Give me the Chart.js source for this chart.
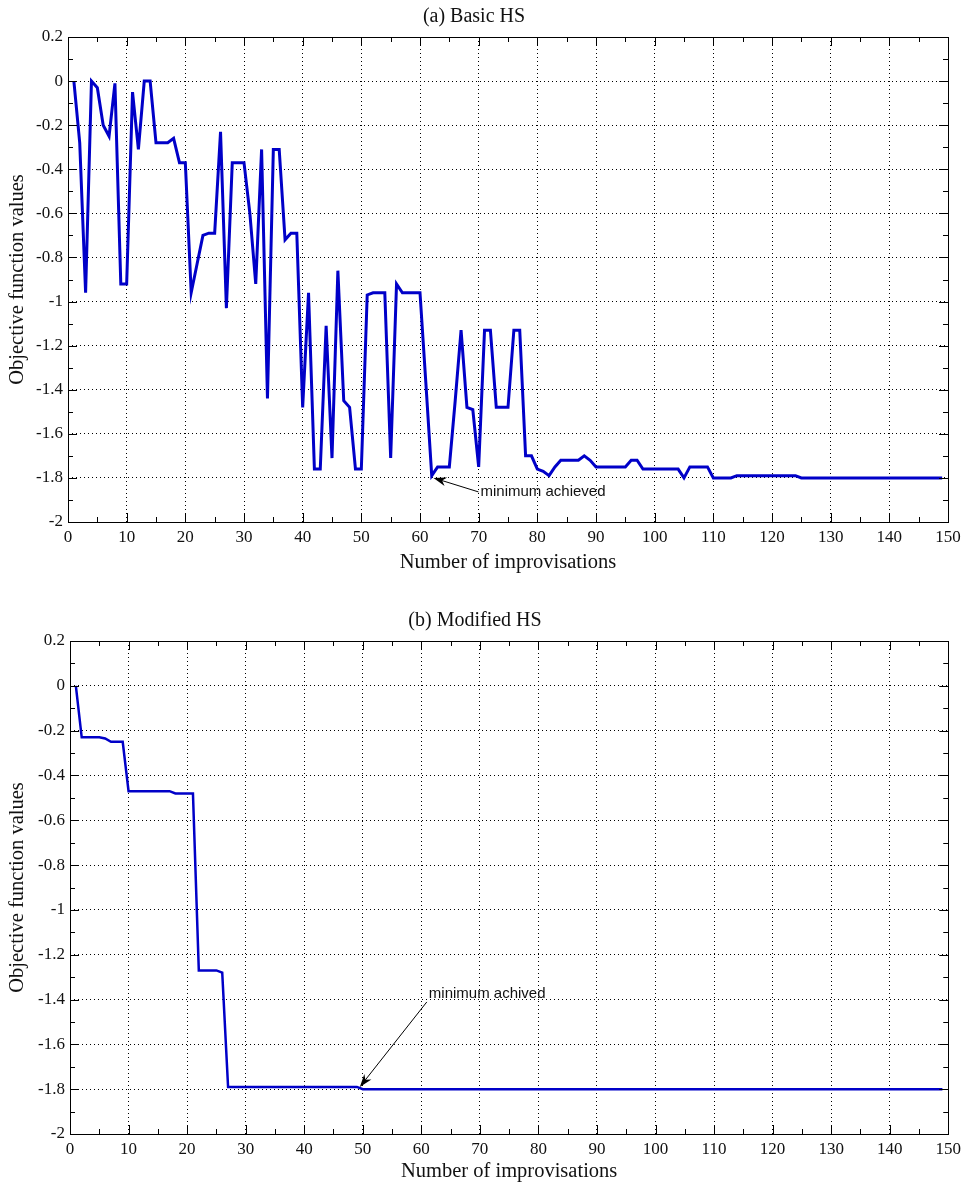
<!DOCTYPE html>
<html>
<head>
<meta charset="utf-8">
<script src="https://cdn.jsdelivr.net/npm/chart.js@4"></script>
<style>
body { margin:0; background:#fff; width:966px; height:1184px; overflow:hidden; position:relative; }
.bloc { position:absolute; left:0; width:966px; }
#bloc-a { top:0; height:580px; }
#bloc-b { top:600px; height:584px; }
</style>
</head>
<body>
<div class="bloc" id="bloc-a"><canvas id="basique"></canvas></div>
<div class="bloc" id="bloc-b"><canvas id="modifie"></canvas></div>
<script>
// valeurs, une par improvisation (1 a 149)
var basicHS = [
  0, -0.28, -0.96, 0, -0.03, -0.2, -0.25, -0.01, -0.92, -0.92,
  -0.05, -0.31, 0, 0, -0.28, -0.28, -0.28, -0.26, -0.37, -0.37,
  -0.96, -0.83, -0.7, -0.69, -0.69, -0.23, -1.03, -0.37, -0.37, -0.37,
  -0.6, -0.92, -0.31, -1.44, -0.31, -0.31, -0.72, -0.69, -0.69, -1.48,
  -0.96, -1.76, -1.76, -1.11, -1.71, -0.86, -1.45, -1.48, -1.76, -1.76,
  -0.97, -0.96, -0.96, -0.96, -1.71, -0.92, -0.96, -0.96, -0.96, -0.96,
  -1.37, -1.79, -1.75, -1.75, -1.75, -1.45, -1.13, -1.48, -1.49, -1.75,
  -1.13, -1.13, -1.48, -1.48, -1.48, -1.13, -1.13, -1.7, -1.7, -1.76,
  -1.77, -1.79, -1.75, -1.72, -1.72, -1.72, -1.72, -1.7, -1.72, -1.75,
  -1.75, -1.75, -1.75, -1.75, -1.75, -1.72, -1.72, -1.76, -1.76, -1.76,
  -1.76, -1.76, -1.76, -1.76, -1.8, -1.75, -1.75, -1.75, -1.75, -1.8,
  -1.8, -1.8, -1.8, -1.79, -1.79, -1.79, -1.79, -1.79, -1.79, -1.79,
  -1.79, -1.79, -1.79, -1.79, -1.8, -1.8, -1.8, -1.8, -1.8, -1.8,
  -1.8, -1.8, -1.8, -1.8, -1.8, -1.8, -1.8, -1.8, -1.8, -1.8,
  -1.8, -1.8, -1.8, -1.8, -1.8, -1.8, -1.8, -1.8, -1.8
];

var modifiedHS = [
  0, -0.23, -0.23, -0.23, -0.23, -0.235, -0.25, -0.25, -0.25, -0.47,
  -0.47, -0.47, -0.47, -0.47, -0.47, -0.47, -0.47, -0.48, -0.48, -0.48,
  -0.48, -1.27, -1.27, -1.27, -1.27, -1.28, -1.79, -1.79, -1.79, -1.79,
  -1.79, -1.79, -1.79, -1.79, -1.79, -1.79, -1.79, -1.79, -1.79, -1.79,
  -1.79, -1.79, -1.79, -1.79, -1.79, -1.79, -1.79, -1.79, -1.79, -1.8,
  -1.8, -1.8, -1.8, -1.8, -1.8, -1.8, -1.8, -1.8, -1.8, -1.8,
  -1.8, -1.8, -1.8, -1.8, -1.8, -1.8, -1.8, -1.8, -1.8, -1.8,
  -1.8, -1.8, -1.8, -1.8, -1.8, -1.8, -1.8, -1.8, -1.8, -1.8,
  -1.8, -1.8, -1.8, -1.8, -1.8, -1.8, -1.8, -1.8, -1.8, -1.8,
  -1.8, -1.8, -1.8, -1.8, -1.8, -1.8, -1.8, -1.8, -1.8, -1.8,
  -1.8, -1.8, -1.8, -1.8, -1.8, -1.8, -1.8, -1.8, -1.8, -1.8,
  -1.8, -1.8, -1.8, -1.8, -1.8, -1.8, -1.8, -1.8, -1.8, -1.8,
  -1.8, -1.8, -1.8, -1.8, -1.8, -1.8, -1.8, -1.8, -1.8, -1.8,
  -1.8, -1.8, -1.8, -1.8, -1.8, -1.8, -1.8, -1.8, -1.8, -1.8,
  -1.8, -1.8, -1.8, -1.8, -1.8, -1.8, -1.8, -1.8, -1.8
];

var xTicks = [0, 10, 20, 30, 40, 50, 60, 70, 80, 90, 100, 110, 120, 130, 140, 150];
var yTicks = [0.2, 0, -0.2, -0.4, -0.6, -0.8, -1, -1.2, -1.4, -1.6, -1.8, -2];

var serif = "'Liberation Serif', 'Times New Roman', serif";

function points(valeurs) {
  return valeurs.map(function(v, i) { return { x: i + 1, y: v }; });
}

// cadre noir, graduations vers l'interieur et fleche d'annotation
var cadre = {
  id: "cadre",
  afterDraw: function(chart, args, opts) {
    var ctx = chart.ctx, a = chart.chartArea;
    var sx = chart.scales.x, sy = chart.scales.y;
    ctx.save();
    ctx.strokeStyle = "#000";
    ctx.lineWidth = 1;
    ctx.strokeRect(Math.round(a.left) + 0.5, Math.round(a.top) + 0.5,
                   Math.round(a.right - a.left), Math.round(a.bottom - a.top));
    ctx.beginPath();
    function trait(px, long) {
      px = Math.round(px) + 0.5;
      ctx.moveTo(px, a.bottom); ctx.lineTo(px, a.bottom - long);
      ctx.moveTo(px, a.top);    ctx.lineTo(px, a.top + long);
    }
    function traitY(py, long) {
      py = Math.round(py) + 0.5;
      ctx.moveTo(a.left, py);  ctx.lineTo(a.left + long, py);
      ctx.moveTo(a.right, py); ctx.lineTo(a.right - long, py);
    }
    xTicks.forEach(function(v, i) {
      trait(sx.getPixelForValue(v), 9);
      if (i < xTicks.length - 1) trait(sx.getPixelForValue((v + xTicks[i + 1]) / 2), 5);
    });
    yTicks.forEach(function(v, i) {
      traitY(sy.getPixelForValue(v), 9);
      if (i < yTicks.length - 1) traitY(sy.getPixelForValue((v + yTicks[i + 1]) / 2), 5);
    });
    ctx.stroke();

    var f = opts.fleche;
    if (f) {
      var hx = sx.getPixelForValue(f.x), hy = sy.getPixelForValue(f.y);
      var tx = hx + f.dx, ty = hy + f.dy;
      var ang = Math.atan2(hy - ty, hx - tx);
      ctx.strokeStyle = "#000";
      ctx.fillStyle = "#000";
      ctx.beginPath();
      ctx.moveTo(tx, ty);
      ctx.lineTo(hx - 8 * Math.cos(ang), hy - 8 * Math.sin(ang));
      ctx.stroke();
      ctx.beginPath();
      ctx.moveTo(hx, hy);
      ctx.lineTo(hx - 13 * Math.cos(ang) + 4.5 * Math.sin(ang), hy - 13 * Math.sin(ang) - 4.5 * Math.cos(ang));
      ctx.lineTo(hx - 9 * Math.cos(ang), hy - 9 * Math.sin(ang));
      ctx.lineTo(hx - 13 * Math.cos(ang) - 4.5 * Math.sin(ang), hy - 13 * Math.sin(ang) + 4.5 * Math.cos(ang));
      ctx.closePath();
      ctx.fill();
      ctx.font = "15px 'Liberation Sans', Arial, sans-serif";
      ctx.fillStyle = "#111";
      ctx.textBaseline = "middle";
      ctx.textAlign = "left";
      ctx.fillText(f.texte, tx + f.tdx, ty + f.tdy);
    }
    ctx.restore();
  }
};

function options(titre, cfg) {
  return {
    responsive: true,
    maintainAspectRatio: false,
    animation: false,
    layout: { padding: { top: cfg.padTop, right: cfg.padRight, bottom: cfg.padBottom, left: 0 } },
    plugins: {
      legend: { display: false },
      tooltip: { enabled: false },
      title: {
        display: true,
        text: titre,
        color: "#111",
        font: { family: serif, size: 20, weight: "normal" },
        padding: { top: cfg.titreHaut, bottom: cfg.titreBas }
      },
      cadre: { fleche: cfg.fleche }
    },
    scales: {
      x: {
        type: "linear",
        min: 0,
        max: 150,
        afterBuildTicks: function(s) { s.ticks = xTicks.map(function(v) { return { value: v }; }); },
        afterFit: function(s) { s.height = cfg.hauteurX; },
        grid: { color: "#000", lineWidth: 1, drawTicks: false },
        border: { display: false, dash: [1, 3] },
        ticks: { color: "#111", padding: 5, maxRotation: 0, font: { family: serif, size: 17 } },
        title: {
          display: true,
          text: "Number of improvisations",
          color: "#111",
          font: { family: serif, size: 20.5 },
          padding: { top: 0, bottom: 0 }
        }
      },
      y: {
        type: "linear",
        min: -2,
        max: 0.2,
        afterBuildTicks: function(s) { s.ticks = yTicks.map(function(v) { return { value: v }; }); },
        afterFit: function(s) { s.width = cfg.largeurY; },
        grid: { color: "#000", lineWidth: 1, drawTicks: false },
        border: { display: false, dash: [1, 3] },
        ticks: {
          color: "#111",
          padding: 5,
          font: { family: serif, size: 17 },
          callback: function(v) { return String(Math.round(v * 10) / 10); }
        },
        title: {
          display: true,
          text: "Objective function values",
          color: "#111",
          font: { family: serif, size: 20.5 },
          padding: { top: 5, bottom: 0 }
        }
      }
    }
  };
}

new Chart(document.getElementById("basique"), {
  type: "line",
  data: {
    datasets: [{
      data: points(basicHS),
      borderColor: "#0000c8",
      borderWidth: 3,
      pointRadius: 0,
      tension: 0
    }]
  },
  options: options("(a) Basic HS", {
    padTop: 0, padRight: 18, padBottom: 5, titreHaut: 5, titreBas: 8,
    hauteurX: 53, largeurY: 68,
    fleche: { x: 62.3, y: -1.8, dx: 45, dy: 14, tdx: 2, tdy: 0, texte: "minimum achieved" }
  }),
  plugins: [cadre]
});

new Chart(document.getElementById("modifie"), {
  type: "line",
  data: {
    datasets: [{
      data: points(modifiedHS),
      borderColor: "#0000c8",
      borderWidth: 2.5,
      pointRadius: 0,
      tension: 0
    }]
  },
  options: options("(b) Modified HS", {
    padTop: 1, padRight: 16, padBottom: 0, titreHaut: 8, titreBas: 8,
    hauteurX: 50, largeurY: 70,
    fleche: { x: 49.5, y: -1.79, dx: 67, dy: -85, tdx: 2, tdy: -8, texte: "minimum achived" }
  }),
  plugins: [cadre]
});
</script>
</body>
</html>
